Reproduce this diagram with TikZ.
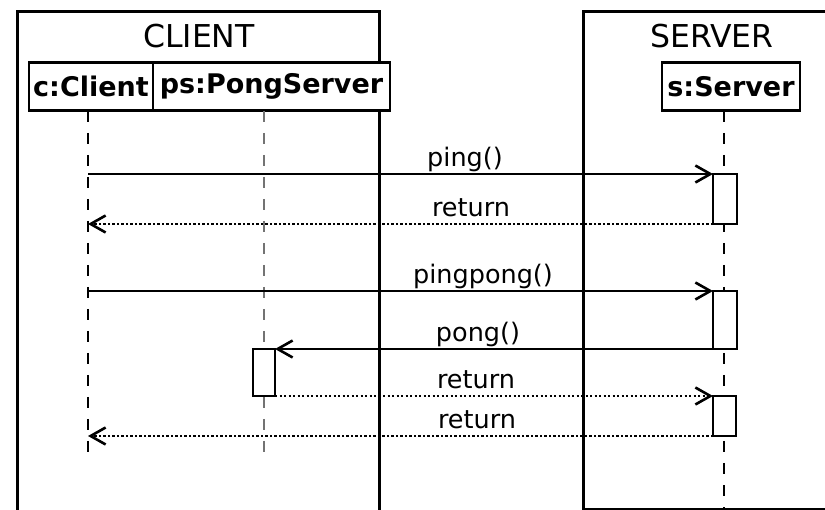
\documentclass[tikz,border=0pt]{standalone}
\usepackage{fontspec}
\setmainfont{DejaVu Sans}
\usetikzlibrary{arrows.meta}

\tikzset{
  frameline/.style={line width=3pt, line cap=rect},
  framelabel/.style={font=\fontsize{31.5}{36}\selectfont, anchor=base, inner sep=0pt},
  objbox/.style={draw, line width=2.8pt, fill=white, inner sep=0pt,
    minimum height=48pt, font=\fontsize{27}{32}\selectfont\bfseries},
  lifeline/.style={line width=2.4pt, dash pattern=on 11pt off 11pt},
  greylife/.style={lifeline, draw=black!55},
  actbox/.style={draw, line width=2.8pt, fill=white, inner sep=0pt, outer sep=0pt},
  tip/.style={-{Straight Barb[length=15pt, width=17pt, line width=2.6pt]}},
  callmsg/.style={tip, line width=2.6pt},
  retmsg/.style={tip, line width=2.6pt, dash pattern=on 2.3pt off 2.2pt},
  msglabel/.style={font=\fontsize{25.5}{30}\selectfont, anchor=base, inner sep=0pt},
}

\begin{document}
\begin{tikzpicture}[x=1pt, y=-1pt]
\useasboundingbox (0,0) rectangle (825,510);

% package frames
\draw[frameline] (17,520) -- (17,12) -- (379,12) -- (379,520);
\draw[frameline] (850,509) -- (583,509) -- (583,12) -- (850,12);
\node[framelabel] (clientlbl) at (199,48) {CLIENT};
\node[framelabel] (serverlbl) at (712,48) {SERVER};

% lifeline heads
\node[objbox, minimum width=124pt] (c)  at (91,86.5)    {c:Client};
\node[objbox, minimum width=237pt] (ps) at (271.5,86.5) {ps:PongServer};
\node[objbox, minimum width=138pt] (s)  at (731,86.5)   {s:Server};

% lifeline ends and anchors
\coordinate (ctop)  at (88,111);   \coordinate (cend)  at (88,460);
\coordinate (pstop) at (264,111);  \coordinate (psend) at (264,457);
\coordinate (stop)  at (724,111);  \coordinate (send)  at (724,512);

\draw[lifeline] (ctop) -- (cend);
\draw[greylife] (pstop) -- (psend);
\draw[lifeline] (stop) -- (send);

% activations
\node[actbox, minimum width=24pt, minimum height=50pt] (a1) at (725,199) {};
\node[actbox, minimum width=24pt, minimum height=58pt] (a2) at (725,320) {};
\node[actbox, minimum width=22pt, minimum height=47pt] (a3) at (264,372.5) {};
\node[actbox, minimum width=23pt, minimum height=40pt] (a4) at (724.5,416) {};

% points on the client lifeline
\coordinate (c1) at (88,174);
\coordinate (c2) at (88,224);
\coordinate (c3) at (88,291);
\coordinate (c6) at (88,436);

% messages
\draw[callmsg] (c1) -- (a1.north west);
\draw[retmsg]  (a1.south west) -- (c2);
\draw[callmsg] (c3) -- (a2.north west);
\draw[callmsg] (a2.south west) -- (a3.north east);
\draw[retmsg]  (a3.south east) -- (a4.north west);
\draw[retmsg]  (a4.south west) -- (c6);

% message labels
\node[msglabel] (m1) at (465,167) {ping()};
\node[msglabel] (m2) at (471,217) {return};
\node[msglabel] (m3) at (483,284) {pingpong()};
\node[msglabel] (m4) at (478,342) {pong()};
\node[msglabel] (m5) at (476,389) {return};
\node[msglabel] (m6) at (477,429) {return};
\end{tikzpicture}
\end{document}
